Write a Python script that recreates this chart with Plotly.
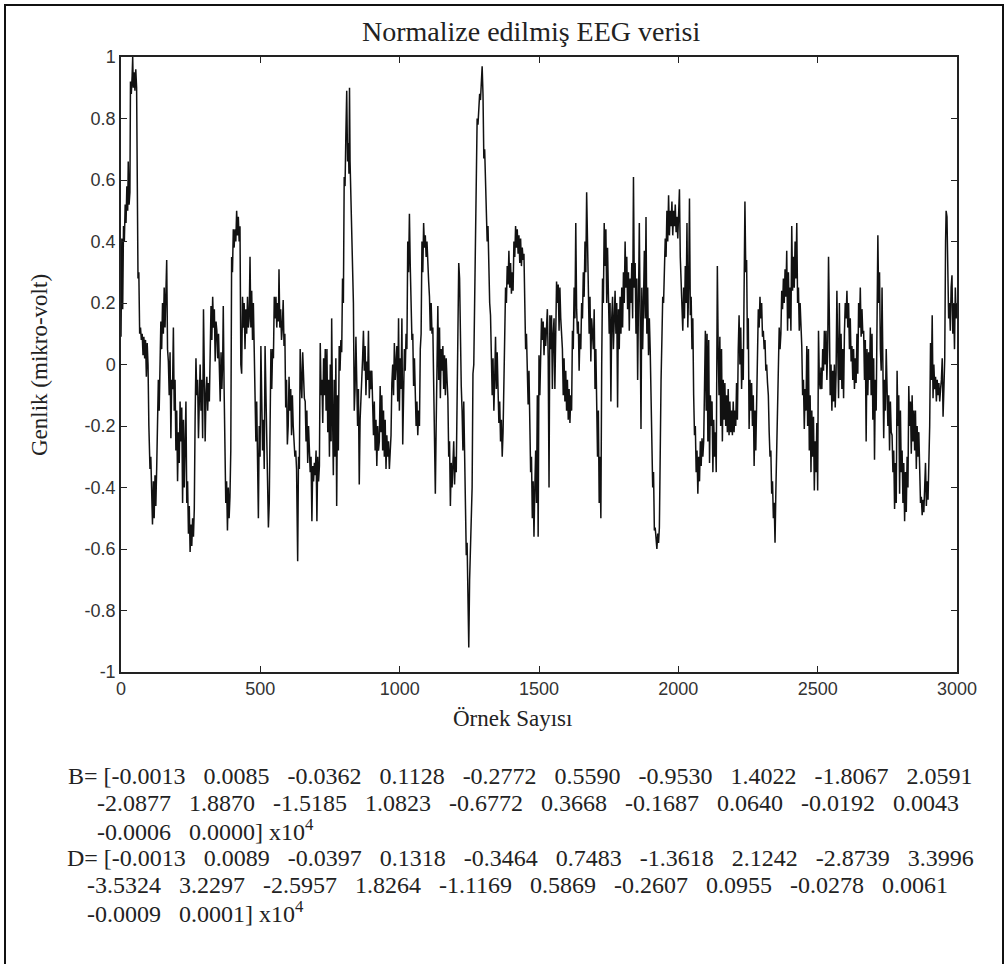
import plotly.graph_objects as go

# ---------------- data ----------------
sample_index = [
    0, 3, 6, 9, 12, 15, 18, 21, 24, 26, 29, 32, 34, 37, 40, 42, 44, 47, 50, 53, 56, 58, 61, 64, 67, 70, 73, 76, 79, 82,
    85, 88, 91, 94, 97, 100, 104, 107, 110, 113, 116, 119, 122, 125, 128, 131, 134, 137, 140, 143, 146, 149, 152, 155,
    158, 161, 164, 167, 170, 173, 176, 179, 182, 185, 188, 191, 194, 197, 200, 203, 206, 209, 212, 215, 218, 221, 224,
    227, 230, 233, 236, 239, 242, 245, 248, 251, 254, 257, 260, 263, 266, 269, 272, 275, 278, 281, 284, 287, 290, 293,
    296, 299, 302, 305, 308, 311, 314, 317, 320, 323, 326, 329, 332, 335, 338, 341, 344, 347, 350, 353, 356, 359, 362,
    365, 367, 370, 373, 376, 379, 382, 385, 388, 391, 394, 397, 400, 403, 406, 409, 412, 415, 418, 421, 424, 427, 430,
    433, 436, 439, 442, 445, 448, 451, 454, 457, 460, 463, 466, 469, 472, 475, 478, 481, 484, 487, 490, 493, 496, 499,
    502, 505, 508, 511,
    514, 517, 520, 523, 526, 529, 532, 535, 538, 541, 544, 547, 550, 553, 556, 559, 562, 565, 567, 570, 573, 576, 579,
    582, 585, 588, 591, 594, 597, 600, 603, 606, 609, 612, 615, 618, 621, 624, 627, 630, 634, 637, 640, 643, 646, 649,
    652, 655, 658, 661, 664, 667, 670, 673, 676, 679, 682, 685, 688, 691, 694, 697, 700, 703, 706, 709, 712, 715, 718,
    721, 724, 727, 730, 733, 736, 739, 742, 745, 748, 751, 754, 756, 759, 762, 765, 768, 771, 774, 777, 780, 783, 786,
    789, 792, 795, 798, 801, 804, 807, 810, 813, 816, 818, 820, 822, 825, 828, 831, 834, 837, 840, 843, 846, 849, 852,
    855, 858, 861, 864, 867, 870, 873, 876, 879, 882, 885, 888, 891, 894, 897, 900, 903, 906, 909, 912, 915, 918, 921,
    924, 927, 930, 933, 936, 939, 942, 945, 948, 951, 954, 957, 960, 963, 966, 969, 972, 975, 978, 981, 984, 987, 990,
    993, 996, 999, 1002, 1005, 1008, 1011, 1014, 1017,
    1020, 1023, 1026, 1029, 1032, 1035, 1038, 1041, 1044, 1047, 1050, 1053, 1056, 1059, 1062, 1065, 1068, 1071, 1074,
    1077, 1080, 1083, 1086, 1089, 1092, 1095, 1098, 1101, 1104, 1107, 1110, 1113, 1116, 1119, 1122, 1125, 1128, 1131,
    1134, 1137, 1140, 1143, 1146, 1149, 1152, 1155, 1158, 1161, 1164, 1167, 1170, 1173, 1176, 1179, 1182, 1185, 1188,
    1191, 1194, 1197, 1200, 1203, 1206, 1209, 1212, 1215, 1218, 1221, 1224, 1227, 1230, 1233, 1236, 1239, 1242, 1245,
    1248, 1251, 1254, 1257, 1260, 1263, 1266, 1269, 1272, 1275, 1278, 1281, 1284, 1287, 1290, 1293, 1296, 1299, 1302,
    1305, 1308, 1311, 1314, 1317, 1320, 1323, 1326, 1329, 1332, 1335, 1338, 1341, 1344, 1347, 1350, 1353, 1356, 1359,
    1362, 1365, 1368, 1371, 1374, 1377, 1380, 1383, 1386, 1389, 1392, 1395, 1398, 1401, 1404, 1407, 1410, 1413, 1416,
    1419, 1422, 1425, 1428, 1431, 1434, 1437, 1440, 1443, 1446, 1449, 1452, 1455, 1458, 1461, 1464, 1467, 1470, 1473,
    1476, 1479, 1482, 1485, 1488, 1491, 1494, 1497, 1500, 1503, 1506, 1509, 1512, 1515, 1518, 1521,
    1524, 1527, 1530, 1533, 1536, 1539, 1542, 1545, 1548, 1551, 1554, 1557, 1560, 1563, 1566, 1569, 1572, 1575, 1578,
    1581, 1584, 1587, 1590, 1593, 1596, 1599, 1602, 1605, 1608, 1611, 1614, 1617, 1620, 1623, 1626, 1629, 1632, 1635,
    1638, 1641, 1644, 1647, 1650, 1653, 1656, 1659, 1662, 1665, 1668, 1671, 1674, 1677, 1680, 1683, 1686, 1689, 1692,
    1695, 1698, 1701, 1704, 1707, 1710, 1713, 1716, 1719, 1722, 1725, 1728, 1731, 1734, 1737, 1740, 1743, 1746, 1749,
    1752, 1755, 1758, 1761, 1764, 1767, 1770, 1773, 1776, 1779, 1782, 1785, 1788, 1791, 1794, 1797, 1800, 1803, 1806,
    1809, 1812, 1815, 1818, 1821, 1824, 1827, 1830, 1833, 1836, 1839, 1842, 1845, 1848, 1851, 1854, 1857, 1860, 1863,
    1866, 1869, 1872, 1875, 1878, 1881, 1884, 1887, 1890, 1893, 1896, 1899, 1902, 1905, 1908, 1911, 1914, 1917, 1920,
    1923, 1926, 1929, 1932, 1935, 1938, 1941, 1944, 1947, 1950, 1953, 1956, 1959, 1962, 1965, 1968, 1971, 1974, 1977,
    1980, 1983, 1986, 1989, 1992, 1995, 1998, 2001, 2004, 2007, 2010, 2013, 2016, 2019, 2022,
    2025, 2028, 2031, 2034, 2037, 2040, 2043, 2046, 2049, 2052, 2055, 2058, 2061, 2064, 2067, 2070, 2073, 2076, 2079,
    2082, 2085, 2088, 2091, 2094, 2097, 2100, 2103, 2106, 2109, 2112, 2115, 2118, 2121, 2124, 2127, 2130, 2133, 2136,
    2140, 2143, 2146, 2149, 2152, 2155, 2158, 2161, 2164, 2167, 2170, 2173, 2176, 2179, 2182, 2185, 2188, 2191, 2194,
    2197, 2200, 2203, 2206, 2209, 2212, 2215, 2218, 2221, 2224, 2227, 2230, 2233, 2236, 2239, 2242, 2245, 2248, 2251,
    2254, 2257, 2260, 2263, 2266, 2269, 2272, 2275, 2278, 2281, 2284, 2287, 2290, 2293, 2296, 2299, 2302, 2305, 2308,
    2311, 2314, 2317, 2320, 2323, 2326, 2329, 2332, 2335, 2338, 2341, 2344, 2347, 2350, 2353, 2356, 2359, 2362, 2365,
    2368, 2371, 2374, 2377, 2380, 2383, 2386, 2389, 2392, 2395, 2398, 2401, 2404, 2407, 2410, 2413, 2416, 2419, 2422,
    2425, 2428, 2431, 2434, 2437, 2440, 2443, 2446, 2449, 2452, 2455, 2458, 2461, 2464, 2467, 2470, 2473, 2476, 2479,
    2482, 2485, 2488, 2491, 2494, 2497, 2500, 2503, 2506, 2509, 2512, 2515, 2518, 2521, 2524, 2527,
    2530, 2533, 2536, 2539, 2542, 2545, 2548, 2551, 2554, 2557, 2560, 2563, 2566, 2569, 2572, 2575, 2578, 2581, 2584,
    2587, 2590, 2593, 2596, 2599, 2602, 2605, 2608, 2611, 2614, 2617, 2620, 2623, 2626, 2629, 2632, 2635, 2638, 2641,
    2644, 2647, 2650, 2653, 2656, 2659, 2662, 2665, 2668, 2671, 2674, 2677, 2680, 2683, 2686, 2689, 2692, 2695, 2698,
    2701, 2704, 2707, 2710, 2713, 2716, 2719, 2722, 2725, 2728, 2731, 2734, 2737, 2740, 2743, 2746, 2749, 2752, 2755,
    2758, 2761, 2764, 2767, 2770, 2773, 2776, 2779, 2782, 2785, 2788, 2791, 2794, 2797, 2800, 2803, 2806, 2809, 2812,
    2815, 2818, 2821, 2824, 2827, 2830, 2833, 2836, 2839, 2842, 2845, 2848, 2851, 2854, 2857, 2860, 2863, 2866, 2869,
    2872, 2875, 2878, 2881, 2884, 2887, 2890, 2893, 2896, 2899, 2902, 2905, 2908, 2911, 2914, 2917, 2920, 2923, 2926,
    2929, 2932, 2935, 2938, 2941, 2944, 2947, 2950, 2953, 2956, 2959, 2961, 2964, 2967, 2970, 2973, 2976, 2979, 2982,
    2985, 2988, 2991, 2994, 2997, 3000,
]

amplitude = [
    0.09, 0.41, 0.18, 0.45, 0.40, 0.52, 0.46, 0.58, 0.50, 0.66, 0.52, 0.56, 0.92, 0.88, 0.94, 1.00, 0.90, 0.95, 0.89, 0.96,
    0.90, 0.49, 0.28, 0.30, 0.10, 0.12, 0.08, 0.10, 0.03, 0.09, 0.02, 0.08, -0.04, 0.07, 0.00, -0.20, -0.34, -0.30, -0.42,
    -0.52, -0.38, -0.50, -0.36, -0.46, -0.34, -0.17, -0.05, -0.15, 0.03, 0.14, 0.05, 0.20, 0.10, 0.25, 0.12, 0.30, 0.34,
    0.05, 0.01, -0.10, 0.04, -0.24, -0.05, -0.08, 0.12, -0.15, -0.05, -0.28, -0.15, -0.38, -0.22, -0.32, -0.12, -0.25,
    -0.14, -0.45, -0.18, -0.40, -0.30, -0.12, -0.45, -0.38, -0.55, -0.46, -0.61, -0.52, -0.59, -0.50, -0.56, -0.47, -0.17,
    0.02, -0.10, -0.05, -0.24, -0.10, 0.00, -0.15, -0.05, -0.24, 0.18, -0.02, -0.25, -0.10, -0.04, -0.15, -0.06, -0.12,
    0.05, 0.19, 0.08, 0.22, 0.12, 0.18, 0.01, 0.14, 0.11, 0.02, 0.10, -0.05, -0.12, 0.04, -0.08, 0.02, 0.19, -0.08, -0.33,
    -0.45, -0.38, -0.54, -0.40, -0.50, -0.43, -0.28, 0.35, 0.30, 0.44, 0.38, 0.44, 0.40, 0.50, 0.42, 0.48, 0.40, 0.45,
    0.00, -0.03, 0.22, 0.12, 0.20, 0.05, 0.18, 0.10, 0.22, 0.12, 0.15, 0.35, 0.12, 0.24, 0.08, 0.20, 0.03, -0.08, -0.25,
    -0.12, -0.35, -0.50, -0.20, -0.30, 0.06, -0.15, -0.28, -0.18,
    -0.34, 0.06, -0.10, -0.30, -0.42, -0.53, -0.45, -0.06, 0.05, -0.08, 0.05, 0.02, 0.22, 0.15, 0.22, 0.12, 0.20, 0.14,
    0.31, 0.12, 0.18, 0.08, 0.12, 0.21, 0.06, 0.10, -0.14, -0.05, -0.26, -0.20, -0.04, -0.15, -0.08, -0.23, -0.10, -0.20,
    -0.26, -0.30, -0.28, -0.34, -0.64, -0.30, -0.34, 0.05, -0.05, -0.11, 0.04, -0.06, -0.11, -0.12, -0.25, -0.15, -0.32,
    -0.20, -0.29, -0.35, -0.30, -0.51, -0.33, -0.38, -0.32, -0.36, -0.28, -0.51, -0.30, -0.38, -0.33, 0.07, -0.10, -0.05,
    -0.19, 0.02, -0.10, 0.05, -0.15, 0.05, -0.22, -0.05, -0.30, 0.00, -0.25, 0.15, -0.15, -0.36, -0.05, -0.30, 0.02, -0.46,
    -0.10, -0.28, 0.06, -0.02, 0.08, 0.04, 0.28, 0.20, 0.61, 0.58, 0.75, 0.89, 0.66, 0.72, 0.62, 0.90, 0.66, 0.55, 0.49,
    0.32, 0.20, -0.15, -0.08, 0.09, -0.05, -0.20, -0.08, -0.39, -0.18, -0.12, -0.08, 0.02, 0.11, -0.02, 0.06, -0.10, 0.01,
    -0.05, 0.11, -0.11, -0.02, -0.08, -0.02, -0.11, -0.23, -0.12, -0.28, -0.18, -0.33, -0.20, -0.28, -0.25, -0.07, -0.22,
    -0.10, -0.28, -0.15, -0.30, -0.18, -0.34, -0.23, -0.30, -0.25, -0.34, -0.28, -0.23, -0.06, 0.00, -0.10, 0.07, -0.05,
    0.03, 0.06, -0.12, 0.15, -0.15, 0.02, -0.08, 0.15, -0.26, -0.05, 0.05,
    -0.02, 0.10, 0.05, 0.40, 0.30, 0.49, 0.32, 0.20, 0.08, 0.10, -0.07, 0.02, -0.07, -0.20, -0.12, -0.23, -0.15, -0.20,
    0.05, 0.10, 0.40, 0.30, 0.46, 0.38, 0.42, 0.35, 0.40, 0.30, 0.27, 0.22, 0.11, 0.20, 0.10, 0.12, -0.10, -0.25, -0.42,
    -0.20, 0.10, 0.19, -0.05, 0.12, -0.11, 0.05, -0.02, 0.06, -0.08, 0.03, -0.10, 0.02, -0.05, -0.11, -0.30, -0.25, -0.46,
    -0.32, -0.40, -0.28, -0.25, -0.39, -0.30, -0.35, -0.08, 0.10, 0.33, 0.28, 0.00, -0.07, -0.15, -0.28, -0.12, -0.28,
    -0.49, -0.62, -0.58, -0.80, -0.92, -0.70, -0.63, -0.50, -0.40, -0.03, 0.00, 0.20, 0.40, 0.62, 0.80, 0.78, 0.84, 0.88,
    0.86, 0.92, 0.97, 0.88, 0.67, 0.70, 0.61, 0.55, 0.40, 0.45, 0.25, 0.20, 0.16, 0.05, -0.10, 0.02, -0.15, -0.05, 0.09,
    -0.08, 0.04, -0.08, -0.19, -0.12, -0.25, -0.18, -0.30, -0.22, -0.08, 0.10, 0.25, 0.20, 0.32, 0.26, 0.37, 0.25, 0.33,
    0.23, 0.30, 0.24, 0.40, 0.35, 0.45, 0.38, 0.44, 0.36, 0.42, 0.33, 0.41, 0.32, 0.38, 0.34, 0.36, 0.20, 0.05, 0.10,
    -0.05, -0.13, -0.02, -0.24, -0.35, -0.30, -0.50, -0.38, -0.56, -0.40, -0.28, -0.45, -0.10, -0.56, 0.03, -0.10, 0.05,
    0.15, 0.08, 0.14, 0.03, 0.12,
    0.06, 0.14, 0.18, 0.02, -0.40, 0.16, 0.05, 0.16, -0.08, 0.10, 0.15, -0.08, 0.05, 0.27, 0.20, 0.26, 0.11, 0.25, 0.15,
    0.11, 0.05, -0.10, 0.02, -0.12, -0.02, -0.15, -0.05, -0.18, -0.08, -0.19, -0.10, -0.15, 0.11, 0.05, 0.25, 0.15, 0.46,
    0.18, 0.10, 0.14, -0.02, 0.10, 0.05, 0.20, 0.15, 0.30, 0.22, 0.40, 0.30, 0.56, 0.38, 0.27, 0.10, 0.22, 0.01, 0.15,
    0.10, 0.05, 0.18, -0.08, 0.05, -0.20, -0.30, -0.15, -0.45, -0.30, -0.50, 0.00, 0.28, 0.20, 0.46, 0.32, 0.44, 0.20,
    0.38, 0.23, 0.10, 0.20, -0.12, 0.15, 0.22, 0.05, 0.20, 0.24, 0.10, 0.20, -0.14, 0.18, 0.05, 0.22, 0.10, 0.25, 0.12,
    0.30, 0.20, 0.40, 0.25, 0.35, 0.18, 0.30, 0.11, 0.28, 0.20, 0.33, 0.15, 0.61, 0.25, 0.33, 0.10, 0.28, -0.05, 0.20,
    0.46, 0.15, -0.21, 0.25, 0.05, 0.20, 0.37, 0.15, 0.48, 0.10, 0.25, 0.03, 0.15, 0.05, -0.10, -0.25, -0.40, -0.35,
    -0.54, -0.53, -0.57, -0.60, -0.55, -0.58, -0.53, -0.15, -0.05, 0.08, 0.22, 0.20, 0.30, 0.41, 0.35, 0.50, 0.40, 0.55,
    0.42, 0.50, 0.45, 0.53, 0.42, 0.50, 0.45, 0.52, 0.43, 0.48, 0.41, 0.50, 0.57, 0.35, 0.27, 0.20, 0.11, 0.25, 0.15,
    0.32, 0.20, 0.46, 0.12, 0.25, 0.54, 0.16, 0.22, 0.05, 0.15, -0.10, -0.23, -0.20, -0.35, -0.28, -0.42, -0.30, -0.38,
    -0.25, -0.33, -0.24, -0.30, -0.25, 0.05, 0.11, -0.15, 0.10, -0.25, 0.08, -0.32, -0.10, -0.20, -0.12, -0.35, -0.18,
    -0.30, -0.22, -0.35, 0.32, 0.05, -0.10, 0.09, -0.20, 0.05, -0.25, -0.05, -0.18, -0.06, -0.20, -0.10, -0.22, -0.08,
    -0.23, -0.12, -0.22, -0.15, -0.23, -0.12, -0.22, -0.15, -0.20, -0.06, -0.18, 0.05, 0.16, 0.00, 0.12, -0.08, 0.05,
    -0.05, 0.20, 0.53, 0.30, 0.34, 0.05, 0.15, -0.21, -0.05, -0.15, -0.06, -0.20, -0.10, -0.33, -0.15, -0.28, -0.10, 0.05,
    0.18, 0.12, 0.22, 0.15, 0.20, 0.09, 0.11, 0.05, 0.08, -0.02, 0.00, -0.06, -0.10, -0.22, -0.30, -0.28, -0.42, -0.38,
    -0.50, -0.45, -0.58, -0.41, -0.30, -0.17, -0.05, 0.12, 0.05, 0.10, 0.24, 0.18, 0.28, 0.20, 0.31, 0.22, 0.37, 0.11,
    0.30, 0.15, 0.25, 0.11, 0.45, 0.24, 0.35, 0.25, 0.40, 0.28, 0.46, 0.20, 0.25, 0.11, 0.20, 0.14, 0.06, -0.10, -0.05,
    -0.21, -0.08, -0.15, 0.06, -0.20, 0.05, -0.28, -0.10, -0.35, -0.15, -0.30, -0.17, -0.41, -0.25, -0.35, -0.19, -0.41,
    0.11, -0.05, -0.08, -0.01, -0.08, 0.05, -0.02, 0.11, 0.00,
    0.11, -0.05, 0.05, 0.35, 0.15, -0.10, 0.00, -0.15, -0.02, -0.12, 0.00, -0.14, -0.03, 0.24, 0.05, -0.11, 0.20, -0.05,
    0.10, -0.08, 0.05, -0.11, 0.10, 0.20, 0.15, 0.24, 0.12, 0.20, 0.05, 0.15, 0.01, 0.06, -0.05, 0.05, -0.08, 0.02, -0.06,
    0.10, -0.03, 0.20, 0.12, 0.25, 0.09, 0.18, 0.10, 0.11, -0.05, 0.08, -0.25, 0.05, -0.10, 0.04, -0.05, 0.12, -0.10,
    0.10, -0.18, 0.02, -0.31, -0.05, -0.15, 0.10, 0.42, 0.20, 0.30, 0.05, -0.02, 0.25, 0.00, -0.24, -0.05, -0.15, 0.05,
    -0.07, -0.20, -0.10, -0.28, -0.12, -0.22, -0.23, -0.35, -0.28, -0.47, -0.32, -0.45, -0.02, -0.20, -0.10, -0.42,
    -0.15, -0.35, -0.28, -0.45, -0.32, -0.51, -0.35, -0.48, -0.30, -0.40, -0.07, -0.20, -0.12, -0.29, -0.10, -0.25,
    -0.15, -0.28, -0.15, -0.34, -0.20, -0.30, -0.22, -0.41, -0.45, -0.43, -0.49, -0.44, -0.48, -0.40, -0.32, -0.46,
    -0.38, -0.44, -0.35, -0.20, 0.07, -0.05, 0.16, -0.11, 0.00, -0.08, -0.04, -0.12, -0.05, -0.10, -0.06, -0.12, -0.08,
    -0.05, 0.02, -0.17, -0.08, 0.02, 0.40, 0.50, 0.48, 0.27, 0.15, 0.20, 0.11, 0.25, 0.29, 0.10, 0.20, 0.05, 0.25, 0.15,
    0.20,
]

x_tick_values = [0, 500, 1000, 1500, 2000, 2500, 3000]
x_tick_labels = ["0", "500", "1000", "1500", "2000", "2500", "3000"]
y_tick_values = [1, 0.8, 0.6, 0.4, 0.2, 0, -0.2, -0.4, -0.6, -0.8, -1]
y_tick_labels = ["1", "0.8", "0.6", "0.4", "0.2", "0", "-0.2", "-0.4", "-0.6", "-0.8", "-1"]

title_text = "Normalize edilmiş EEG verisi"
x_label = "Örnek Sayısı"
y_label = "Genlik (mikro-volt)"

B_coeffs = ["-0.0013", "0.0085", "-0.0362", "0.1128", "-0.2772", "0.5590", "-0.9530", "1.4022", "-1.8067", "2.0591",
            "-2.0877", "1.8870", "-1.5185", "1.0823", "-0.6772", "0.3668", "-0.1687", "0.0640", "-0.0192", "0.0043",
            "-0.0006", "0.0000"]
D_coeffs = ["-0.0013", "0.0089", "-0.0397", "0.1318", "-0.3464", "0.7483", "-1.3618", "2.1242", "-2.8739", "3.3996",
            "-3.5324", "3.2297", "-2.5957", "1.8264", "-1.1169", "0.5869", "-0.2607", "0.0955", "-0.0278", "0.0061",
            "-0.0009", "0.0001"]

# ---------------- layout geometry (pixels) ----------------
W, H = 1008, 964
PL, PR, PT, PB = 121, 957, 57, 672  # plot area


def px(xp):
    return (xp - PL) / (PR - PL)


def py(yp):
    return (PB - yp) / (PB - PT)


SERIF = "Liberation Serif, Times New Roman, serif"
SANS = "Liberation Sans, Arial, sans-serif"

fig = go.Figure()
fig.add_trace(go.Scatter(
    x=sample_index, y=amplitude, mode="lines",
    line=dict(color="#111111", width=1.5), showlegend=False, hoverinfo="skip",
))

axis_common = dict(
    showgrid=False, zeroline=False, showline=True, linecolor="#222222", linewidth=1.5,
    mirror="allticks", ticks="inside", ticklen=6, tickcolor="#222222", tickwidth=1.3,
    tickfont=dict(family=SANS, size=18, color="#333333"),
)
fig.update_xaxes(range=[0, 3000], tickvals=x_tick_values, ticktext=x_tick_labels, **axis_common)
fig.update_yaxes(range=[-1, 1], tickvals=y_tick_values, ticktext=y_tick_labels, **axis_common)

sp = "\u00a0\u00a0\u00a0"


def fmt_line(items):
    return sp.join(items)


text_lines = [
    ("B=\u00a0[" + fmt_line(B_coeffs[0:10]), 66, 776),
    (fmt_line(B_coeffs[10:20]), 95, 803),
    (fmt_line(B_coeffs[20:22]) + "]\u00a0x10<sup>4</sup>", 95, 830),
    ("D=\u00a0[" + fmt_line(D_coeffs[0:10]), 65, 858),
    (fmt_line(D_coeffs[10:20]), 85, 885),
    (fmt_line(D_coeffs[20:22]) + "]\u00a0x10<sup>4</sup>", 85, 912),
]

annotations = [
    dict(text=title_text, x=px(531), y=py(31), xref="paper", yref="paper", showarrow=False,
         xanchor="center", yanchor="middle", font=dict(family=SERIF, size=28, color="#222222")),
    dict(text=x_label, x=px(512), y=py(718), xref="paper", yref="paper", showarrow=False,
         xanchor="center", yanchor="middle", font=dict(family=SERIF, size=23, color="#222222")),
    dict(text=y_label, x=px(40), y=py(365), xref="paper", yref="paper", showarrow=False, textangle=-90,
         xanchor="center", yanchor="middle", font=dict(family=SERIF, size=23, color="#222222")),
]
for txt, x0, y0 in text_lines:
    annotations.append(dict(text=txt, x=px(x0), y=py(y0), xref="paper", yref="paper", showarrow=False,
                            xanchor="left", yanchor="middle",
                            font=dict(family=SERIF, size=24, color="#222222")))

shapes = [
    dict(type="line", xref="paper", yref="paper", x0=px(5), x1=px(5), y0=py(4), y1=py(H + 5),
         line=dict(color="#111111", width=2)),
    dict(type="line", xref="paper", yref="paper", x0=px(4), x1=px(1004), y0=py(5), y1=py(5),
         line=dict(color="#111111", width=2)),
    dict(type="line", xref="paper", yref="paper", x0=px(1003), x1=px(1003), y0=py(4), y1=py(H + 5),
         line=dict(color="#111111", width=2)),
]

fig.update_layout(
    width=W, height=H, margin=dict(l=PL, r=W - PR, t=PT, b=H - PB),
    paper_bgcolor="white", plot_bgcolor="white",
    annotations=annotations, shapes=shapes, showlegend=False,
)

fig.write_html("out.html")
